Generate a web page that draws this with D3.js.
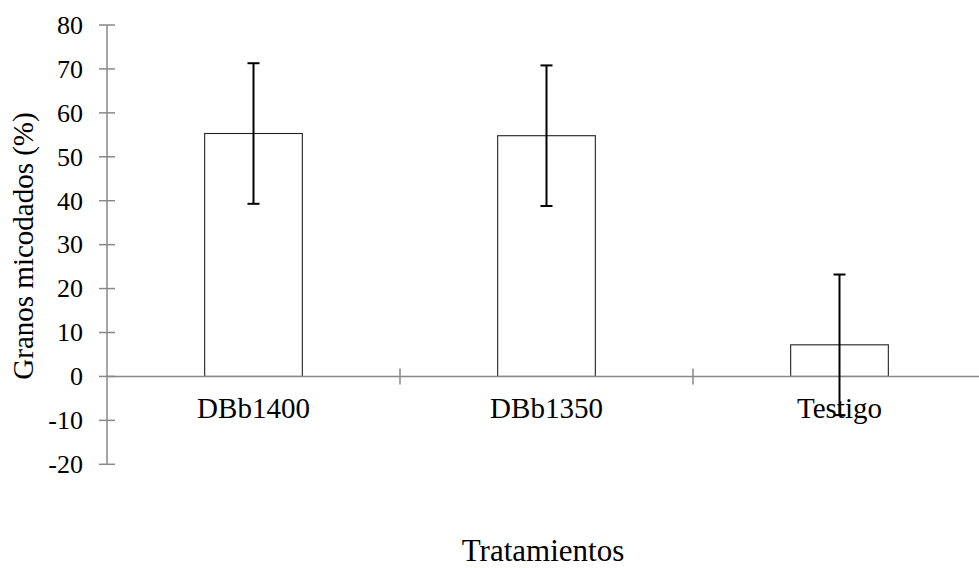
<!DOCTYPE html>
<html>
<head>
<meta charset="utf-8">
<script src="https://cdn.jsdelivr.net/npm/d3@7"></script>
<style>
  body { margin: 0; background: #fff; }
  text { font-family: "Liberation Serif", "Times New Roman", serif; fill: #000; }
</style>
</head>
<body>
<div id="chart"></div>
<script>
// data
let categories = ["DBb1400", "DBb1350", "Testigo"];
let means = [55.3, 54.8, 7.2];
let errors = [16, 16, 16];
let yTicks = [-20, -10, 0, 10, 20, 30, 40, 50, 60, 70, 80];

let width = 979, height = 568;
let axisColor = "#898989";

let svg = d3.select("#chart").append("svg")
    .attr("width", width)
    .attr("height", height);

// scales
let x = d3.scaleBand().domain(categories).range([107, 986]).paddingInner(0).paddingOuter(0);
let y = d3.scaleLinear().domain([-20, 80]).range([464.3, 25]);
let barW = x.bandwidth() / 3;

// y axis line and ticks crossing it
svg.append("line")
    .attr("x1", 107).attr("x2", 107)
    .attr("y1", y(80)).attr("y2", y(-20))
    .style("stroke", axisColor).style("stroke-width", 1.5);

svg.selectAll(".ytick").data(yTicks).enter().append("line")
    .attr("x1", 99).attr("x2", 115)
    .attr("y1", d => y(d)).attr("y2", d => y(d))
    .style("stroke", axisColor).style("stroke-width", 1.5);

svg.selectAll(".ylab").data(yTicks).enter().append("text")
    .attr("x", 83)
    .attr("y", d => y(d))
    .attr("dy", "0.34em")
    .attr("text-anchor", "end")
    .style("font-size", "26px")
    .text(d => d);

// bars
svg.selectAll(".bar").data(categories).enter().append("rect")
    .attr("x", d => x(d) + barW)
    .attr("y", (d, i) => y(means[i]))
    .attr("width", barW)
    .attr("height", (d, i) => y(0) - y(means[i]))
    .style("fill", "#fff")
    .style("stroke", "#222")
    .style("stroke-width", 1.1);

// x axis line with category boundary ticks
svg.append("line")
    .attr("x1", 107).attr("x2", 986)
    .attr("y1", y(0)).attr("y2", y(0))
    .style("stroke", axisColor).style("stroke-width", 1.5);

svg.selectAll(".xtick").data(categories.slice(1)).enter().append("line")
    .attr("x1", d => x(d)).attr("x2", d => x(d))
    .attr("y1", y(0) - 8).attr("y2", y(0) + 8)
    .style("stroke", axisColor).style("stroke-width", 1.5);

svg.selectAll(".xlab").data(categories).enter().append("text")
    .attr("x", d => x(d) + x.bandwidth() / 2)
    .attr("y", 418)
    .attr("text-anchor", "middle")
    .style("font-size", "29px")
    .text(d => d);

// error bars
let err = svg.selectAll(".err").data(categories).enter().append("g");
err.append("line")
    .attr("x1", d => x(d) + x.bandwidth() / 2).attr("x2", d => x(d) + x.bandwidth() / 2)
    .attr("y1", (d, i) => y(means[i] + errors[i]))
    .attr("y2", (d, i) => y(means[i] - errors[i]))
    .style("stroke", "#000").style("stroke-width", 2);
[1, -1].forEach(function(s) {
    err.append("line")
        .attr("x1", d => x(d) + x.bandwidth() / 2 - 6).attr("x2", d => x(d) + x.bandwidth() / 2 + 6)
        .attr("y1", (d, i) => y(means[i] + s * errors[i]))
        .attr("y2", (d, i) => y(means[i] + s * errors[i]))
        .style("stroke", "#000").style("stroke-width", 2);
});

// axis titles
svg.append("text")
    .attr("x", 543)
    .attr("y", 561)
    .attr("text-anchor", "middle")
    .style("font-size", "31px")
    .text("Tratamientos");

svg.append("text")
    .attr("transform", "translate(33,246) rotate(-90)")
    .attr("text-anchor", "middle")
    .style("font-size", "29px")
    .text("Granos micodados (%)");
</script>
</body>
</html>
